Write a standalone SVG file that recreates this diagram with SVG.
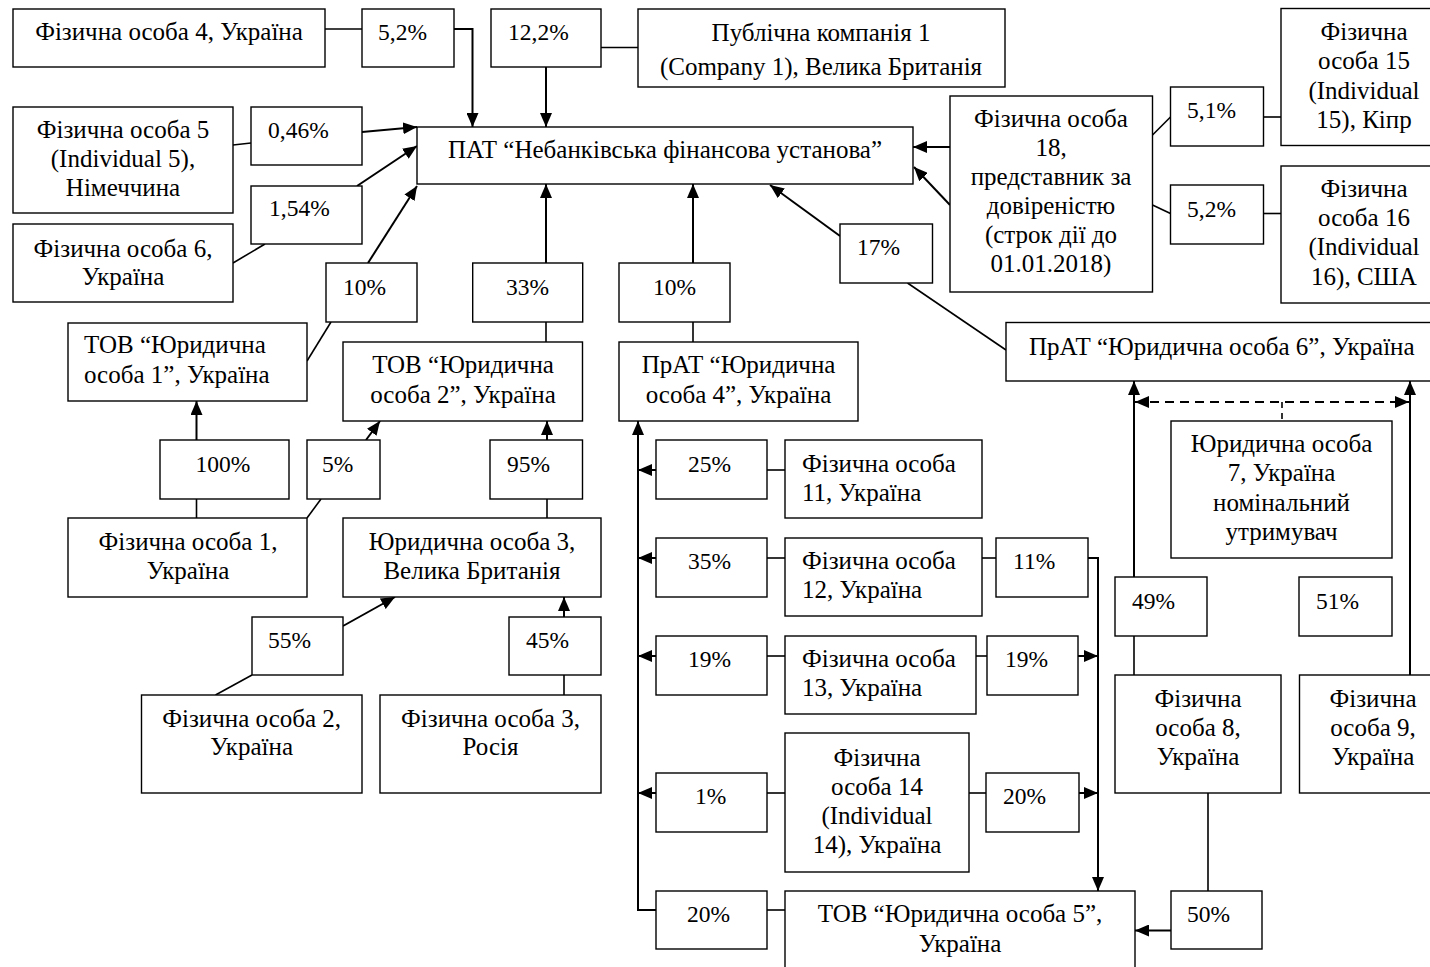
<svg xmlns="http://www.w3.org/2000/svg" width="1430" height="967" viewBox="0 0 1430 967">
<style>
.b{fill:#fff;stroke:#000;stroke-width:1.4}
text{font-family:"Liberation Serif","Times New Roman",serif;font-size:25px;fill:#000}
g[id^="p_"] text{font-size:23.5px}
.c{text-anchor:middle}
.l{stroke:#000;stroke-width:1.6;fill:none}
.a{stroke:#000;stroke-width:2;fill:none;marker-end:url(#ah)}
.d{stroke:#000;stroke-width:2;fill:none;stroke-dasharray:9 6;marker-start:url(#ah2);marker-end:url(#ah2)}
.dl{stroke:#000;stroke-width:1.6;fill:none;stroke-dasharray:6 5}
</style>
<defs>
<marker id="ah" viewBox="0 0 14 12" refX="14" refY="6" markerWidth="14" markerHeight="12" markerUnits="userSpaceOnUse" orient="auto"><path d="M0,0 L14,6 L0,12 z" fill="#000"/></marker>
<marker id="ah2" viewBox="0 0 14 12" refX="14" refY="6" markerWidth="14" markerHeight="12" markerUnits="userSpaceOnUse" orient="auto-start-reverse"><path d="M0,0 L14,6 L0,12 z" fill="#000"/></marker>
</defs>
<rect width="1430" height="967" fill="#fff"/>
<g id="connectors">
<line class="l" x1="325" y1="29" x2="362" y2="29"/>
<path class="a" d="M454,29 H472.5 V127"/>
<path class="a" d="M546,67 V127"/>
<line class="l" x1="601" y1="47.5" x2="638" y2="47.5"/>
<line class="l" x1="233" y1="145" x2="251" y2="143"/>
<path class="a" d="M362,132 L417,127"/>
<line class="l" x1="233" y1="263" x2="265" y2="244"/>
<path class="a" d="M357,186 L417,146"/>
<path class="a" d="M368,263 L417,186"/>
<line class="l" x1="307" y1="361" x2="331" y2="322"/>
<path class="a" d="M546,263 V184"/>
<line class="l" x1="546" y1="342" x2="546" y2="322"/>
<path class="a" d="M693,263 V184"/>
<line class="l" x1="693" y1="342" x2="693" y2="322"/>
<path class="a" d="M840,236 L770,185"/>
<line class="l" x1="1006" y1="350" x2="907.5" y2="283"/>
<path class="a" d="M950,147 H913"/>
<path class="a" d="M950,205 L914,167"/>
<line class="l" x1="1152.5" y1="135" x2="1170.5" y2="117"/>
<line class="l" x1="1263.5" y1="117" x2="1281" y2="117"/>
<line class="l" x1="1152.5" y1="205" x2="1170.5" y2="213.5"/>
<line class="l" x1="1263.5" y1="213.5" x2="1281" y2="213.5"/>
<path class="a" d="M196.5,440 V401"/>
<line class="l" x1="196.5" y1="518" x2="196.5" y2="499"/>
<path class="a" d="M366,440 L380,421"/>
<line class="l" x1="307" y1="518" x2="321" y2="499"/>
<path class="a" d="M547,440 V421"/>
<line class="l" x1="547" y1="518" x2="547" y2="499"/>
<path class="a" d="M343,626 L395,597"/>
<line class="l" x1="215.5" y1="695" x2="252" y2="675"/>
<path class="a" d="M564,617 V597"/>
<line class="l" x1="564" y1="695" x2="564" y2="675"/>
<path class="a" d="M656,910 H638 V421"/>
<path class="a" d="M656,470 H638"/>
<line class="l" x1="767" y1="470" x2="785" y2="470"/>
<path class="a" d="M656,558 H638"/>
<line class="l" x1="767" y1="558" x2="785" y2="558"/>
<path class="a" d="M656,656 H638"/>
<line class="l" x1="767" y1="656" x2="785" y2="656"/>
<path class="a" d="M656,793 H638"/>
<line class="l" x1="767" y1="793" x2="785" y2="793"/>
<line class="l" x1="767" y1="910" x2="785" y2="910"/>
<line class="l" x1="982" y1="558" x2="996" y2="558"/>
<path class="a" d="M1088,558 H1098 V891"/>
<line class="l" x1="976" y1="656" x2="987" y2="656"/>
<path class="a" d="M1078,656 H1098"/>
<line class="l" x1="969" y1="793" x2="986" y2="793"/>
<path class="a" d="M1079,793 H1098"/>
<line class="l" x1="1208" y1="793" x2="1208" y2="891"/>
<path class="a" d="M1171,930.5 H1135"/>
<line class="l" x1="1134" y1="675" x2="1134" y2="636"/>
<path class="a" d="M1134,577 V381"/>
<path class="a" d="M1410,675 V381"/>
<path class="d" d="M1135,402 H1409"/>
<line class="dl" x1="1282" y1="402" x2="1282" y2="421"/>
</g>
<g id="n_f4"><rect class="b" x="13" y="9" width="312" height="58"/><text class="c" x="169" y="40">Фізична особа 4, Україна</text></g>
<g id="p_52a"><rect class="b" x="362" y="9" width="92" height="58"/><text x="378" y="40">5,2%</text></g>
<g id="p_122"><rect class="b" x="491" y="9" width="110" height="58"/><text x="508" y="40">12,2%</text></g>
<g id="n_pub"><rect class="b" x="638" y="9" width="367" height="78"/><text class="c" x="821" y="40.5">Публічна компанія 1</text><text class="c" x="821" y="74.5">(Company 1), Велика Британія</text></g>
<g id="n_f18"><rect class="b" x="950" y="96" width="202.5" height="196"/>
<text class="c" x="1051" y="126.7">Фізична особа</text><text class="c" x="1051" y="155.7">18,</text><text class="c" x="1051" y="184.7">представник за</text><text class="c" x="1051" y="213.7">довіреністю</text><text class="c" x="1051" y="242.7">(строк дії до</text><text class="c" x="1051" y="271.7">01.01.2018)</text></g>
<g id="p_51"><rect class="b" x="1170.5" y="87" width="93" height="59"/><text x="1187" y="118">5,1%</text></g>
<g id="n_f15"><rect class="b" x="1281" y="8.5" width="200" height="137"/><text class="c" x="1364" y="40">Фізична</text><text class="c" x="1364" y="69.3">особа 15</text><text class="c" x="1364" y="98.6">(Individual</text><text class="c" x="1364" y="128">15), Кіпр</text></g>
<g id="p_52b"><rect class="b" x="1170.5" y="185" width="93" height="59"/><text x="1187" y="216.7">5,2%</text></g>
<g id="n_f16"><rect class="b" x="1281" y="166" width="200" height="137"/><text class="c" x="1364" y="196.7">Фізична</text><text class="c" x="1364" y="226">особа 16</text><text class="c" x="1364" y="255.3">(Individual</text><text class="c" x="1364" y="284.6">16), США</text></g>
<g id="n_f5"><rect class="b" x="13" y="107" width="220" height="106"/><text class="c" x="123" y="137.7">Фізична особа 5</text><text class="c" x="123" y="166.7">(Individual 5),</text><text class="c" x="123" y="196">Німеччина</text></g>
<g id="p_046"><rect class="b" x="251" y="107" width="111" height="58"/><text x="268" y="137.7">0,46%</text></g>
<g id="n_f6"><rect class="b" x="13" y="224" width="220" height="78"/><text class="c" x="123" y="256.7">Фізична особа 6,</text><text class="c" x="123" y="285">Україна</text></g>
<g id="p_154"><rect class="b" x="251" y="186" width="111" height="58"/><text x="269" y="216">1,54%</text></g>
<g id="n_pat"><rect class="b" x="417" y="127" width="496" height="57"/><text class="c" x="665" y="158">ПАТ “Небанківська фінансова установа”</text></g>
<g id="p_10a"><rect class="b" x="326" y="263" width="91" height="59"/><text x="343" y="295">10%</text></g>
<g id="p_33"><rect class="b" x="472.7" y="263" width="110" height="59"/><text class="c" x="527.5" y="295">33%</text></g>
<g id="p_10b"><rect class="b" x="619" y="263" width="111" height="59"/><text class="c" x="674.5" y="295">10%</text></g>
<g id="p_17"><rect class="b" x="840" y="224" width="92.5" height="59"/><text x="857" y="255">17%</text></g>
<g id="n_tov1"><rect class="b" x="68" y="323" width="239" height="78"/><text x="84" y="353.3">ТОВ “Юридична</text><text x="84" y="383.3">особа 1”, Україна</text></g>
<g id="n_tov2"><rect class="b" x="343" y="342" width="239.5" height="79"/><text class="c" x="463" y="373.3">ТОВ “Юридична</text><text class="c" x="463" y="403.3">особа 2”, Україна</text></g>
<g id="n_prat4"><rect class="b" x="619" y="342" width="239" height="79"/><text class="c" x="738.5" y="373.3">ПрАТ “Юридична</text><text class="c" x="738.5" y="403.3">особа 4”, Україна</text></g>
<g id="n_prat6"><rect class="b" x="1006" y="322.5" width="450" height="58.5"/><text x="1029" y="355">ПрАТ “Юридична особа 6”, Україна</text></g>
<g id="p_100"><rect class="b" x="160" y="440" width="129" height="59"/><text class="c" x="223" y="471.7">100%</text></g>
<g id="p_5"><rect class="b" x="307" y="440" width="73" height="59"/><text x="322" y="471.7">5%</text></g>
<g id="p_95"><rect class="b" x="490" y="440" width="92.5" height="59"/><text x="507" y="471.7">95%</text></g>
<g id="p_25"><rect class="b" x="656" y="440" width="111" height="59"/><text x="688" y="471.7">25%</text></g>
<g id="n_f11"><rect class="b" x="785" y="440" width="197" height="78"/><text x="802" y="471.7">Фізична особа</text><text x="802" y="501">11, Україна</text></g>
<g id="n_yur7"><rect class="b" x="1171" y="421" width="221" height="137"/><text class="c" x="1281.5" y="451.7">Юридична особа</text><text class="c" x="1281.5" y="481.3">7, Україна</text><text class="c" x="1281.5" y="510.7">номінальний</text><text class="c" x="1281.5" y="540">утримувач</text></g>
<g id="n_f1"><rect class="b" x="68" y="518" width="239" height="79"/><text class="c" x="188" y="550">Фізична особа 1,</text><text class="c" x="188" y="579.3">Україна</text></g>
<g id="n_yur3"><rect class="b" x="343" y="518" width="258" height="79"/><text class="c" x="472" y="550">Юридична особа 3,</text><text class="c" x="472" y="579.3">Велика Британія</text></g>
<g id="p_35"><rect class="b" x="656" y="538" width="111" height="59"/><text x="688" y="569.3">35%</text></g>
<g id="n_f12"><rect class="b" x="785" y="538" width="197" height="78"/><text x="802" y="569.3">Фізична особа</text><text x="802" y="598.3">12, Україна</text></g>
<g id="p_11"><rect class="b" x="996" y="538" width="92" height="59"/><text x="1013" y="569.3">11%</text></g>
<g id="p_49"><rect class="b" x="1115" y="577" width="92" height="59"/><text x="1132" y="609.3">49%</text></g>
<g id="p_51b"><rect class="b" x="1299" y="577" width="93" height="59"/><text x="1316" y="609.3">51%</text></g>
<g id="p_55"><rect class="b" x="252" y="617" width="91" height="58"/><text x="268" y="647.7">55%</text></g>
<g id="p_45"><rect class="b" x="509" y="617" width="92" height="58"/><text x="526" y="647.7">45%</text></g>
<g id="p_19a"><rect class="b" x="656" y="636" width="111" height="59"/><text x="688" y="666.7">19%</text></g>
<g id="n_f13"><rect class="b" x="785" y="636" width="191" height="78"/><text x="802" y="666.7">Фізична особа</text><text x="802" y="696">13, Україна</text></g>
<g id="p_19b"><rect class="b" x="987" y="636" width="91" height="59"/><text x="1005" y="666.7">19%</text></g>
<g id="n_f8"><rect class="b" x="1115" y="675" width="166" height="118"/><text class="c" x="1198" y="706.5">Фізична</text><text class="c" x="1198" y="735.5">особа 8,</text><text class="c" x="1198" y="765">Україна</text></g>
<g id="n_f9"><rect class="b" x="1299.5" y="675" width="150" height="118"/><text class="c" x="1373" y="706.5">Фізична</text><text class="c" x="1373" y="735.5">особа 9,</text><text class="c" x="1373" y="765">Україна</text></g>
<g id="n_f2"><rect class="b" x="141.5" y="695" width="220.5" height="98"/><text class="c" x="251.7" y="726.7">Фізична особа 2,</text><text class="c" x="251.7" y="755">Україна</text></g>
<g id="n_f3"><rect class="b" x="380" y="695" width="221" height="98"/><text class="c" x="490.5" y="726.7">Фізична особа 3,</text><text class="c" x="490.5" y="755">Росія</text></g>
<g id="n_f14"><rect class="b" x="785" y="733" width="184" height="139"/><text class="c" x="877" y="766">Фізична</text><text class="c" x="877" y="795">особа 14</text><text class="c" x="877" y="824">(Individual</text><text class="c" x="877" y="853">14), Україна</text></g>
<g id="p_1"><rect class="b" x="656" y="773" width="111" height="59"/><text x="695" y="804">1%</text></g>
<g id="p_20b"><rect class="b" x="986" y="773" width="93" height="59"/><text x="1003" y="804">20%</text></g>
<g id="p_20a"><rect class="b" x="656" y="891" width="111" height="58"/><text x="687" y="922.3">20%</text></g>
<g id="n_tov5"><rect class="b" x="785" y="891" width="350" height="90"/><text class="c" x="960" y="922.3">ТОВ “Юридична особа 5”,</text><text class="c" x="960" y="951.7">Україна</text></g>
<g id="p_50"><rect class="b" x="1171" y="891" width="91" height="58"/><text x="1187" y="922.3">50%</text></g>
</svg>
